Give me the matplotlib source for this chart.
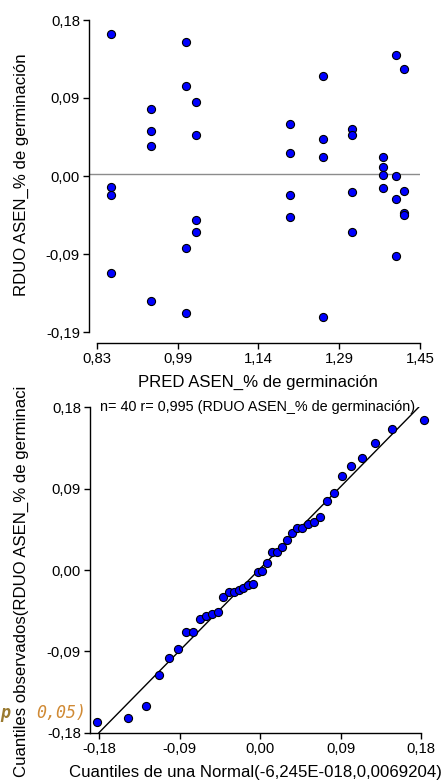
import numpy as np
import matplotlib
matplotlib.use("Agg")
import matplotlib.pyplot as plt

plt.rcParams['font.family'] = ['Liberation Sans', 'DejaVu Sans']

# Predicted values (treatment means) and residuals, four per treatment
pred_levels = [0.8606, 0.9361, 1.0038, 1.0222, 1.2009,
               1.2631, 1.3182, 1.3777, 1.4018, 1.4170]
residuals_by_level = [
    [0.1656, -0.0150, -0.0244, -0.1165],
    [0.0767, 0.0511, 0.0334, -0.1502],
    [0.1561, 0.1042, -0.0877, -0.1637],
    [0.0850, 0.0464, -0.0539, -0.0681],
    [0.0590, 0.0251, -0.0244, -0.0504],
    [0.1156, 0.0413, 0.0204, -0.1684],
    [0.0531, 0.0460, -0.0216, -0.0681],
    [0.0195, 0.0079, -0.0006, -0.0169],
    [0.1401, -0.0020, -0.0295, -0.0971],
    [0.1239, -0.0197, -0.0464, -0.0484],
]

# Theoretical normal quantiles for n = 40 (lower half; upper half is symmetric)
normal_quantiles_lower = [-0.1825, -0.1477, -0.1279, -0.1134, -0.1016,
                          -0.0915, -0.0826, -0.0745, -0.0670, -0.0600,
                          -0.0534, -0.0471, -0.0410, -0.0353, -0.0296,
                          -0.0240, -0.0186, -0.0132, -0.0079, -0.0026]

# Axis ticks
top_xticks = [0.834, 0.9875, 1.141, 1.2945, 1.448]
top_xlabels = ['0,83', '0,99', '1,14', '1,29', '1,45']
top_yticks = [-0.1864, -0.0944, -0.0024, 0.0897, 0.1817]
top_ylabels = ['-0,19', '-0,09', '0,00', '0,09', '0,18']
qq_ticks = [-0.18, -0.09, 0.0, 0.09, 0.18]
qq_labels = ['-0,18', '-0,09', '0,00', '0,09', '0,18']
qq_line_x = [-0.18, 0.177]
qq_line_y = [-0.18, 0.18]

pred = np.repeat(pred_levels, 4)
resid = np.concatenate(residuals_by_level)
q_lower = np.array(normal_quantiles_lower)
theo = np.concatenate([q_lower, -q_lower[::-1]])
observed = np.sort(resid)

W, H = 446, 783
fig = plt.figure(figsize=(W / 100, H / 100), dpi=100)

def px_axes(left, top, right, bottom):
    return fig.add_axes([left / W, 1 - bottom / H, (right - left) / W, (bottom - top) / H])

tick_fs = 10.7
label_fs = 12.1
marker_kw = dict(s=34, c='#0000ff', edgecolors='black', linewidths=0.8, zorder=3, clip_on=False)

# ---- Residuals vs predicted ----
ax1 = px_axes(89, 20, 420, 332)
ax1.scatter(pred, resid, **marker_kw)
ax1.axhline(0.0, color='#8c8c8c', linewidth=1.0, zorder=1)
ax1.set_xlim(0.8188, 1.448)
ax1.set_ylim(top_yticks[0], top_yticks[-1])
ax1.set_xticks(top_xticks, top_xlabels)
ax1.set_yticks(top_yticks, top_ylabels)
ax1.spines['top'].set_visible(False)
ax1.spines['right'].set_visible(False)
ax1.spines['bottom'].set_position(('outward', 7.9))
ax1.spines['bottom'].set_bounds(top_xticks[0], top_xticks[-1])

# ---- Normal Q-Q plot ----
ax2 = px_axes(90, 407.3, 421.3, 732.7)
ax2.plot(qq_line_x, qq_line_y, color='black', linewidth=1.0, zorder=2)
ax2.scatter(theo, observed, **marker_kw)
ax2.set_xlim(-0.190, 0.18)
ax2.set_ylim(-0.18, 0.18)
ax2.set_xticks(qq_ticks, qq_labels)
ax2.set_yticks(qq_ticks, qq_labels)
ax2.spines['top'].set_visible(False)
ax2.spines['right'].set_visible(False)

for ax in (ax1, ax2):
    for sp in ax.spines.values():
        sp.set_linewidth(1.0)
    ax.tick_params(direction='out', length=4.5, width=1.0, labelsize=tick_fs, pad=2)

fig.text(257.5 / W, 1 - 382 / H, 'PRED ASEN_% de germinación', ha='center', va='center', fontsize=label_fs)
fig.text(21 / W, 1 - 175 / H, 'RDUO ASEN_% de germinación', ha='center', va='center',
         rotation=90, fontsize=label_fs)
fig.text(255 / W, 1 - 773 / H, 'Cuantiles de una Normal(-6,245E-018,0,0069204)',
         ha='center', va='center', fontsize=label_fs)
fig.text(100 / W, 1 - 407 / H, 'n= 40 r= 0,995 (RDUO ASEN_% de germinación)',
         ha='left', va='center', fontsize=10.4)

# Fragment of an overlapping console line
fig.text(0 / W, 1 - 713 / H, 'p', ha='left', va='center', fontsize=12,
         family='DejaVu Sans Mono', style='italic', weight='bold', color='#9a7a30')
fig.text(36 / W, 1 - 713 / H, '0,05)', ha='left', va='center', fontsize=12,
         family='DejaVu Sans Mono', style='italic', color='#d08a35')

fig.text(21 / W, 1 - 777 / H, 'Cuantiles observados(RDUO ASEN_% de germinaci',
         ha='center', va='bottom', rotation=90, fontsize=label_fs)

fig.savefig('out.png', dpi=100)
